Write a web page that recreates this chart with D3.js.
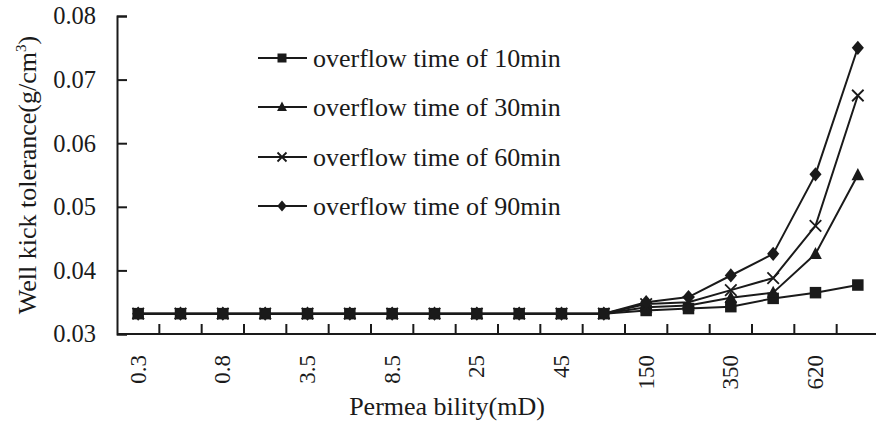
<!DOCTYPE html>
<html>
<head>
<meta charset="utf-8">
<script src="https://cdn.jsdelivr.net/npm/d3@7"></script>
<style>
  body { margin: 0; background: #fff; }
  text { font-family: "Liberation Serif", "Times New Roman", serif; fill: #1a1a1a; }
</style>
</head>
<body>
<div id="chart"></div>
<script>
// permeability categories (mD); only every other one is labelled on the axis
const categories = ["0.3", "0.5", "0.8", "1.5", "3.5", "5.5", "8.5", "15", "25", "35",
                    "45", "80", "150", "250", "350", "480", "620", "800"];
const labelled = ["0.3", "0.8", "3.5", "8.5", "25", "45", "150", "350", "620"];
const yTicks = [0.03, 0.04, 0.05, 0.06, 0.07, 0.08];

const seriesNames = ["overflow time of 10min", "overflow time of 30min",
                     "overflow time of 60min", "overflow time of 90min"];
const t10 = [0.0332, 0.0332, 0.0332, 0.0332, 0.0332, 0.0332, 0.0332, 0.0332, 0.0332, 0.0332,
             0.0332, 0.0332, 0.0337, 0.0340, 0.0343, 0.0356, 0.0365, 0.0377];
const t30 = [0.0332, 0.0332, 0.0332, 0.0332, 0.0332, 0.0332, 0.0332, 0.0332, 0.0332, 0.0332,
             0.0332, 0.0332, 0.0342, 0.0345, 0.0357, 0.0365, 0.0426, 0.0550];
const t60 = [0.0332, 0.0332, 0.0332, 0.0332, 0.0332, 0.0332, 0.0332, 0.0332, 0.0332, 0.0332,
             0.0332, 0.0332, 0.0347, 0.0350, 0.0369, 0.0388, 0.0470, 0.0675];
const t90 = [0.0332, 0.0332, 0.0332, 0.0332, 0.0332, 0.0332, 0.0332, 0.0332, 0.0332, 0.0332,
             0.0332, 0.0332, 0.0350, 0.0358, 0.0392, 0.0426, 0.0551, 0.0750];
const symbols = ["square", "triangle", "cross", "diamond"];

const width = 876, height = 424;
const plotLeft = 117, plotRight = 879, plotTop = 16, plotBottom = 334;
const ink = "#1a1a1a";

const svg = d3.select("#chart").append("svg")
  .attr("width", width)
  .attr("height", height);

const x = d3.scaleBand().domain(categories).range([plotLeft, plotRight]).padding(0);
const y = d3.scaleLinear().domain([0.03, 0.08]).range([plotBottom, plotTop]);
const cx = c => x(c) + x.bandwidth() / 2;

// marker shapes
function marker(g, type, s) {
  if (type === "square") {
    g.append("rect").attr("x", -s / 2).attr("y", -s / 2).attr("width", s).attr("height", s).attr("fill", ink);
  } else if (type === "triangle") {
    g.append("path").attr("d", `M0,${-s * 0.6}L${s * 0.55},${s * 0.45}L${-s * 0.55},${s * 0.45}Z`).attr("fill", ink);
  } else if (type === "diamond") {
    const r = s * 0.62;
    g.append("path").attr("d", `M0,${-r}L${r * 0.85},0L0,${r}L${-r * 0.85},0Z`).attr("fill", ink);
  } else {
    const r = s * 0.5;
    g.append("path").attr("d", `M${-r},${-r}L${r},${r}M${-r},${r}L${r},${-r}`)
      .attr("stroke", ink).attr("stroke-width", 1.8).attr("fill", "none");
  }
}

// y axis, ticks pointing into the plot
svg.append("g")
  .attr("transform", `translate(${plotLeft},0)`)
  .call(d3.axisLeft(y).tickValues(yTicks).tickFormat(d3.format(".2f")).tickSize(-10).tickPadding(21))
  .call(g => g.select(".domain").attr("stroke", ink).attr("stroke-width", 2))
  .call(g => g.selectAll(".tick line").attr("stroke", ink).attr("stroke-width", 2))
  .call(g => g.selectAll(".tick text").style("font-size", "24.5px").attr("fill", ink));

// x axis: labels on every other category, ticks at category boundaries
svg.append("g")
  .attr("transform", `translate(0,${plotBottom})`)
  .call(d3.axisBottom(x).tickValues(labelled).tickSize(0).tickPadding(0))
  .call(g => g.select(".domain").remove())
  .call(g => g.selectAll(".tick text")
    .style("font-size", "23px").attr("fill", ink)
    .attr("transform", "rotate(-90)")
    .attr("x", -21).attr("y", 0).attr("dy", "0.33em")
    .style("text-anchor", "end"));

svg.append("line")
  .attr("x1", plotLeft).attr("x2", plotRight).attr("y1", plotBottom).attr("y2", plotBottom)
  .attr("stroke", ink).attr("stroke-width", 2);

svg.append("g").selectAll("line")
  .data(categories.slice(1))
  .join("line")
  .attr("x1", d => x(d)).attr("x2", d => x(d))
  .attr("y1", plotBottom).attr("y2", plotBottom - 10)
  .attr("stroke", ink).attr("stroke-width", 2);

// axis titles
svg.append("text")
  .attr("x", 447).attr("y", 415)
  .attr("text-anchor", "middle")
  .style("font-size", "26px")
  .text("Permea bility(mD)");

const yt = svg.append("text")
  .attr("transform", "translate(36,175) rotate(-90)")
  .attr("text-anchor", "middle")
  .style("font-size", "26px");
yt.append("tspan").text("Well kick tolerance(g/cm");
yt.append("tspan").style("font-size", "15px").attr("dy", -10).text("3");
yt.append("tspan").attr("dy", 10).text(")");

// series
const allSeries = [t10, t30, t60, t90];
const line = d3.line().x((d, i) => cx(categories[i])).y(d => y(d));

allSeries.forEach(vals => {
  svg.append("path")
    .datum(vals)
    .attr("d", line)
    .attr("fill", "none")
    .attr("stroke", ink)
    .attr("stroke-width", 2);
});

allSeries.forEach((vals, si) => {
  vals.forEach((v, i) => {
    const g = svg.append("g").attr("transform", `translate(${cx(categories[i])},${y(v)})`);
    marker(g, symbols[si], 11.5);
  });
});

// legend
const legendY = [58, 107, 157, 206];
seriesNames.forEach((name, i) => {
  const g = svg.append("g").attr("transform", `translate(258,${legendY[i]})`);
  g.append("line").attr("x1", 0).attr("x2", 49).attr("y1", 0).attr("y2", 0)
    .attr("stroke", ink).attr("stroke-width", 2);
  const m = g.append("g").attr("transform", "translate(24,0)");
  marker(m, symbols[i], 9);
  g.append("text")
    .attr("x", 55).attr("y", 0).attr("dy", "0.33em")
    .style("font-size", "26px")
    .text(name);
});
</script>
</body>
</html>
